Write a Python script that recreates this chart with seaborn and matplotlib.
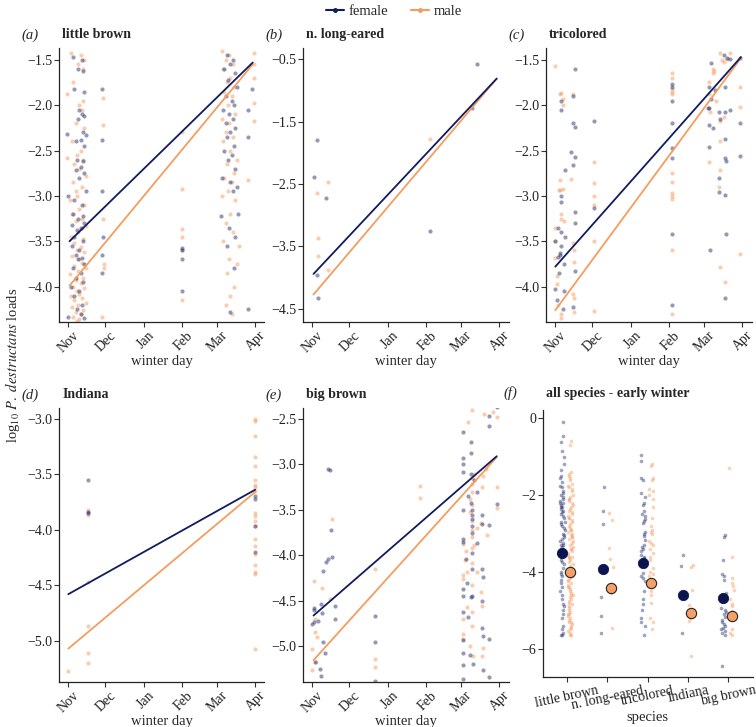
import numpy as np
import pandas as pd
import matplotlib
matplotlib.use('Agg')
import matplotlib.pyplot as plt
from matplotlib.lines import Line2D
from matplotlib.transforms import ScaledTranslation
import seaborn as sns

sns.set_style('white')
plt.rcParams['font.family'] = ['Liberation Serif', 'DejaVu Serif']
plt.rcParams['mathtext.fontset'] = 'stix'

FEMALE = '#101c5e'
MALE = '#f59c5f'

# winter day = days since 1 Nov
month_days = [0, 30, 61, 92, 120, 151]
month_labels = ['Nov', 'Dec', 'Jan', 'Feb', 'Mar', 'Apr']

species = ['little brown', 'n. long-eared', 'tricolored', 'Indiana', 'big brown']

# (a) little brown: (day, log10 load)
lb_female = [
    (4, -1.47), (11, -1.5), (8, -1.6), (12, -1.62), (5, -1.82), (13, -1.85), (9, -2.05), (11, -2.1),
    (13, -2.12), (8, -2.15), (-1, -2.32), (12, -2.3), (14, -2.33), (10, -2.38), (6, -2.4), (13, -2.45),
    (7, -2.6), (12, -2.62), (10, -2.68), (6, -2.72), (13, -2.75), (9, -2.8), (14, -2.95), (0, -3.0),
    (5, -3.05), (11, -3.1), (4, -3.2), (12, -3.22), (8, -3.25), (13, -3.3), (3, -3.32), (10, -3.35),
    (7, -3.38), (5, -3.45), (12, -3.5), (3, -3.55), (9, -3.6), (6, -3.65), (11, -3.68), (8, -3.7),
    (13, -3.75), (4, -3.8), (10, -3.85), (6, -3.9), (12, -3.95), (2, -4.0), (9, -4.05), (5, -4.1),
    (11, -4.2), (7, -4.25), (10, -4.3), (0, -4.33), (13, -4.35),
    (27, -1.82), (27, -2.38), (27, -2.95), (28, -3.45), (27, -3.65), (27, -3.85),
    (92, -3.57), (92, -3.6), (92, -3.7), (92, -4.05),
    (128, -1.45), (133, -1.5), (131, -1.55), (126, -1.6), (135, -1.65), (129, -1.72), (136, -1.8),
    (127, -1.9), (132, -1.95), (134, -2.0), (125, -2.05), (130, -2.1), (133, -2.15), (127, -2.2),
    (135, -2.25), (131, -2.3), (128, -2.35), (134, -2.45), (126, -2.5), (132, -2.55), (129, -2.6),
    (135, -2.7), (124, -2.8), (131, -2.85), (136, -2.9), (133, -2.95), (123, -3.22), (137, -3.2),
    (130, -3.35), (135, -3.45), (128, -3.55), (134, -3.8), (131, -4.28), (145, -4.25), (148, -1.82),
    (145, -2.35), (145, -2.05),
]
lb_male = [
    (2, -1.42), (10, -1.45), (13, -1.5), (8, -1.55), (12, -1.6), (4, -1.75), (-1, -1.88), (9, -2.0),
    (11, -2.05), (6, -2.2), (13, -2.25), (3, -2.4), (10, -2.5), (7, -2.55), (12, -2.6), (-1, -2.58),
    (5, -2.65), (9, -2.7), (14, -2.78), (4, -2.85), (11, -2.9), (7, -3.0), (1, -3.05), (13, -3.1),
    (9, -3.15), (3, -3.2), (11, -3.25), (6, -3.28), (14, -3.33), (8, -3.4), (2, -3.45), (12, -3.48),
    (5, -3.52), (10, -3.56), (7, -3.6), (13, -3.62), (3, -3.66), (9, -3.7), (11, -3.74), (5, -3.77),
    (14, -3.8), (8, -3.83), (1, -3.86), (12, -3.9), (6, -3.93), (10, -3.96), (4, -4.0), (13, -4.02),
    (7, -4.05), (9, -4.08), (2, -4.1), (11, -4.12), (5, -4.15), (14, -4.18), (8, -4.2), (3, -4.23),
    (12, -4.26), (6, -4.28), (10, -4.3), (4, -4.33), (9, -4.36), (7, -4.38), (11, -3.35), (6, -2.95),
    (12, -1.95),
    (28, -1.92), (28, -2.22), (28, -3.25), (29, -3.75), (29, -3.8), (27, -4.33),
    (92, -2.3), (92, -2.92), (92, -3.37), (92, -3.45), (92, -3.6), (92, -4.15),
    (124, -1.4), (130, -1.45), (127, -1.5), (133, -1.55), (125, -1.6), (131, -1.7), (128, -1.75),
    (134, -1.8), (126, -1.85), (132, -1.9), (129, -2.0), (135, -2.1), (124, -2.15), (130, -2.2),
    (127, -2.3), (133, -2.35), (125, -2.4), (131, -2.5), (136, -2.6), (128, -2.65), (134, -2.75),
    (126, -2.8), (132, -2.85), (129, -2.95), (124, -3.0), (135, -3.05), (131, -3.2), (127, -3.3),
    (133, -3.4), (125, -3.5), (130, -3.7), (136, -3.75), (128, -3.85), (134, -4.0), (131, -4.1),
    (127, -4.2), (132, -4.3), (138, -3.55), (150, -1.42), (150, -1.55), (150, -1.7), (150, -1.98),
    (150, -2.18), (145, -2.82),
]

# (b) n. long-eared
nle_female = [(1, -2.38), (4, -1.8), (4, -3.95), (5, -4.33), (11, -2.72), (95, -3.25), (133, -0.58),
              (129, -1.28)]
nle_male = [(4, -2.65), (5, -3.37), (5, -3.65), (13, -3.88), (13, -2.47), (95, -1.78)]

# (c) tricolored
tc_female = [
    (0, -3.5), (0, -4.03), (1, -4.15), (2, -3.67), (2, -3.35), (3, -3.85), (4, -3.63), (4, -3.65),
    (5, -1.95), (5, -2.05), (5, -3.0), (5, -3.07), (5, -3.4), (5, -3.55), (6, -4.25), (7, -3.75),
    (7, -4.05), (8, -2.72), (8, -3.45), (13, -2.52), (14, -1.9), (14, -2.2), (14, -2.66), (14, -4.23),
    (16, -1.6), (16, -2.24), (16, -2.57), (16, -3.18), (16, -3.3), (16, -3.83), (31, -2.17), (31, -3.13),
    (94, -1.77), (94, -1.8), (94, -1.95), (94, -2.2), (94, -2.47), (94, -2.58), (94, -3.42), (94, -4.2),
    (124, -1.8), (124, -2.03), (123, -2.03), (124, -2.22), (124, -2.46), (125, -3.6), (126, -1.53),
    (126, -1.93), (127, -2.25), (129, -1.83), (132, -2.08), (133, -2.15), (136, -1.45), (137, -1.8),
    (137, -2.08), (137, -2.37), (137, -2.58), (132, -2.96), (137, -2.99), (137, -4.13), (138, -2.62),
    (138, -3.42), (139, -1.48), (141, -1.49), (141, -2.05), (149, -1.48), (149, -2.2), (149, -2.56),
    (132, -2.8),
]
tc_male = [
    (0, -1.57), (0, -3.35), (0, -3.5), (0, -3.68), (1, -3.88), (1, -3.97), (2, -4.2), (3, -2.93),
    (4, -1.88), (5, -1.87), (4, -2.82), (4, -2.93), (5, -3.2), (5, -3.25), (5, -4.3), (5, -4.35),
    (6, -1.93), (6, -2.0), (6, -2.92), (7, -3.28), (13, -2.81), (14, -1.88), (14, -3.52), (14, -4.08),
    (15, -3.6), (15, -3.73), (15, -4.13), (15, -4.28), (31, -2.63), (31, -2.86), (31, -3.0), (31, -3.1),
    (31, -3.5), (31, -4.27), (94, -1.65), (94, -1.7), (94, -1.82), (94, -1.85), (94, -1.88), (94, -2.75),
    (94, -2.85), (94, -2.97), (94, -3.0), (94, -3.03), (94, -3.6), (94, -4.3), (124, -1.75), (124, -1.88),
    (124, -2.63), (125, -2.07), (127, -1.65), (127, -1.6), (128, -1.62), (130, -1.95), (133, -1.42),
    (133, -2.17), (133, -2.4), (133, -2.72), (133, -3.78), (135, -1.5), (136, -1.52), (136, -2.13),
    (137, -3.95), (139, -1.49), (141, -1.43), (149, -1.8), (149, -2.02), (149, -3.64), (132, -2.9),
]

# (d) Indiana
ind_female = [(16, -3.55), (16, -3.84), (16, -3.85), (151, -3.7), (151, -3.72), (151, -3.97), (151, -4.2)]
ind_male = [
    (0, -5.27), (16, -3.82), (16, -3.87), (16, -4.47), (16, -4.87), (16, -5.11), (16, -5.2),
    (151, -3.0), (151, -3.02), (151, -3.16), (151, -3.35), (151, -3.43), (151, -3.55), (151, -3.6),
    (151, -3.62), (151, -3.65), (151, -3.85), (151, -3.88), (151, -3.92), (151, -3.97), (151, -4.08),
    (151, -4.15), (151, -4.22), (151, -4.32), (151, -4.38), (151, -4.4), (151, -5.07),
]

# (e) big brown
bb_female = [
    (1, -4.58), (1, -4.6), (1, -4.73), (0, -4.75), (2, -5.17), (5, -4.72), (6, -5.25), (7, -5.32),
    (7, -4.53), (8, -4.63), (9, -4.17), (9, -4.95), (10, -5.07), (11, -4.07), (13, -3.05), (14, -3.06),
    (13, -4.04), (15, -3.72), (16, -4.02), (18, -4.56), (18, -4.7), (51, -4.66), (51, -4.95), (51, -5.38),
    (122, -2.64), (122, -2.93), (122, -3.0), (122, -3.08), (122, -3.5), (122, -3.82), (122, -3.85),
    (122, -4.37), (122, -4.45), (122, -4.62), (122, -4.93), (122, -5.07), (122, -5.2), (122, -5.36),
    (124, -4.04), (125, -4.3), (126, -3.35), (126, -4.68), (127, -5.09), (128, -2.75), (128, -2.87),
    (128, -3.1), (128, -3.42), (129, -3.5), (129, -3.55), (129, -3.6), (129, -3.68), (129, -3.75),
    (129, -3.97), (129, -4.15), (129, -4.45), (128, -4.46), (130, -5.19), (131, -3.17), (133, -3.3),
    (133, -3.86), (137, -3.56), (137, -3.65), (137, -4.15), (137, -4.5), (137, -4.8), (138, -4.24),
    (138, -4.88), (138, -5.26), (143, -2.47), (143, -2.58), (143, -3.67), (143, -4.92), (143, -5.33),
    (149, -2.37), (149, -3.44),
]
bb_male = [
    (0, -5.03), (0, -5.26), (1, -4.28), (2, -4.7), (2, -4.84), (3, -5.17), (4, -4.9), (8, -4.36),
    (14, -4.48), (16, -3.6), (51, -4.15), (51, -5.14), (51, -5.22), (87, -3.24), (87, -3.37),
    (122, -3.87), (122, -4.22), (122, -4.26), (122, -4.7), (122, -4.86), (122, -4.92), (123, -4.05),
    (124, -3.95), (125, -4.57), (125, -4.18), (126, -2.53), (127, -3.38), (127, -3.52), (127, -5.0),
    (129, -2.4), (129, -3.15), (129, -3.22), (129, -3.3), (129, -3.45), (129, -3.62), (129, -3.72),
    (129, -3.8), (129, -3.92), (129, -4.08), (129, -4.32), (129, -4.62), (129, -4.78), (130, -5.1),
    (131, -3.1), (131, -3.88), (133, -3.7), (133, -4.18), (136, -3.64), (136, -4.4), (137, -4.55),
    (137, -3.25), (138, -3.13), (138, -5.02), (139, -2.45), (140, -3.05), (146, -2.42), (149, -2.48),
    (149, -3.25), (149, -3.48), (141, -3.78), (137, -5.1),
]

# fitted lines: start/end day and fitted log10 load, per species
fit_start_day = [1, 1, 0, 0, 1]
fit_end_day = [149, 149, 150, 151, 149]
female_fit_start = [-3.50, -3.94, -3.78, -4.58, -4.66]
female_fit_end = [-1.53, -0.81, -1.47, -3.64, -2.91]
male_fit_start = [-3.99, -4.27, -4.26, -5.07, -5.15]
male_fit_end = [-1.55, -0.81, -1.48, -3.66, -2.92]

# (f) early winter loads per species
early_female = {
    'little brown': [-0.1, -0.45, -0.62, -0.85, -1.0, -1.2, -1.35, -1.5, -1.55, -1.65, -1.75, -1.8, -1.9,
                     -2.0, -2.05, -2.1, -2.15, -2.2, -2.25, -2.3, -2.35, -2.4, -2.45, -2.5, -2.55, -2.6,
                     -2.7, -2.75, -2.8, -2.85, -2.9, -3.0, -3.05, -3.1, -3.15, -3.2, -3.25, -3.3, -3.35,
                     -3.4, -3.45, -3.5, -3.6, -3.7, -3.75, -3.8, -3.9, -4.0, -4.05, -4.1, -4.2, -4.3,
                     -4.4, -4.5, -4.6, -4.7, -4.85, -4.9, -5.0, -5.1, -5.2, -5.4, -5.5, -5.6, -5.65,
                     -5.65, -2.2, -2.3, -2.7, -3.3, -3.5, -1.95],
    'n. long-eared': [-1.8, -2.4, -2.75, -3.9, -4.65, -5.15, -5.6],
    'tricolored': [-0.95, -1.1, -1.6, -1.95, -2.05, -2.2, -2.25, -2.4, -2.5, -2.55, -2.62, -2.67, -2.72,
                   -2.95, -3.0, -3.07, -3.18, -3.3, -3.35, -3.4, -3.45, -3.55, -3.62, -3.65, -3.75,
                   -3.85, -4.03, -4.1, -4.15, -4.25, -4.5, -4.7, -4.85, -5.0, -5.2, -5.3, -5.4, -5.65,
                   -1.55],
    'Indiana': [-3.55, -3.85, -5.6],
    'big brown': [-3.05, -3.1, -3.7, -4.05, -4.1, -4.55, -4.6, -4.7, -4.75, -4.95, -5.05, -5.1, -5.17,
                  -5.25, -5.3, -5.35, -5.4, -5.45, -5.5, -5.55, -5.6, -5.65, -6.45, -4.2, -5.0],
}
early_male = {
    'little brown': [-0.6, -0.7, -1.4, -1.45, -1.5, -1.6, -1.7, -1.8, -1.85, -1.9, -2.0, -2.05, -2.1,
                     -2.15, -2.2, -2.25, -2.3, -2.35, -2.4, -2.45, -2.5, -2.55, -2.6, -2.65, -2.7, -2.75,
                     -2.8, -2.85, -2.9, -2.95, -3.0, -3.05, -3.1, -3.15, -3.2, -3.25, -3.3, -3.35, -3.4,
                     -3.45, -3.5, -3.55, -3.6, -3.65, -3.7, -3.75, -3.8, -3.85, -3.9, -3.95, -4.0, -4.05,
                     -4.1, -4.15, -4.2, -4.25, -4.3, -4.35, -4.4, -4.45, -4.5, -4.55, -4.6, -4.65, -4.7,
                     -4.75, -4.8, -4.85, -4.9, -4.95, -5.0, -5.05, -5.1, -5.15, -5.2, -5.25, -5.3, -5.35,
                     -5.4, -5.45, -5.5, -5.55, -5.6, -5.65, -5.65, -2.1, -2.6, -3.1, -3.6, -4.1, -4.6,
                     -5.1, -5.3, -2.9, -3.4, -3.9, -4.4, -1.55, -1.75],
    'n. long-eared': [-2.47, -2.65, -3.38, -3.67, -3.88, -4.5, -4.55, -5.45],
    'tricolored': [-1.2, -1.25, -1.55, -1.85, -1.9, -2.0, -2.3, -2.6, -2.8, -2.9, -2.95, -3.0, -3.2,
                   -3.25, -3.3, -3.5, -3.6, -3.7, -3.9, -4.0, -4.1, -4.2, -4.3, -4.35, -4.5, -4.6, -4.8,
                   -5.2, -5.3, -5.5, -1.6, -2.1, -3.4, -4.05],
    'Indiana': [-3.82, -3.87, -4.47, -4.87, -5.11, -5.2, -6.2, -5.27],
    'big brown': [-1.3, -3.6, -4.15, -4.28, -4.36, -4.48, -4.7, -4.84, -4.9, -5.03, -5.14, -5.17, -5.22,
                  -5.26, -5.5, -5.65, -5.6],
}
female_mean = [-3.52, -3.93, -3.78, -4.60, -4.67]
male_mean = [-4.00, -4.43, -4.28, -5.08, -5.16]

panels = [
    ('(a)', 'little brown', lb_female, lb_male, (-4.39, -1.37), [-4.0, -3.5, -3.0, -2.5, -2.0, -1.5]),
    ('(b)', 'n. long-eared', nle_female, nle_male, (-4.71, -0.32), [-4.5, -3.5, -2.5, -1.5, -0.5]),
    ('(c)', 'tricolored', tc_female, tc_male, (-4.39, -1.37), [-4.0, -3.5, -3.0, -2.5, -2.0, -1.5]),
    ('(d)', 'Indiana', ind_female, ind_male, (-5.37, -2.905), [-5.0, -4.5, -4.0, -3.5, -3.0]),
    ('(e)', 'big brown', bb_female, bb_male, (-5.39, -2.38), [-5.0, -4.5, -4.0, -3.5, -3.0, -2.5]),
]

W, H = 756, 727
fig = plt.figure(figsize=(W / 100, H / 100), dpi=100)
lefts = [59, 303, 546]
bottoms = [H - 322, H - 682]
aw, ah = 205.5, 274
shift_right = ScaledTranslation(4 / 100, 0, fig.dpi_scale_trans)


def style_axes(ax):
    sns.despine(ax=ax)
    for s in ['left', 'bottom']:
        ax.spines[s].set_color('#222222')
        ax.spines[s].set_linewidth(0.9)
    ax.tick_params(axis='both', which='both', direction='out', length=3.5, width=0.8,
                   color='#333333', labelsize=10, labelcolor='#222222', pad=1.5,
                   bottom=True, left=True)
    ax.set_ylabel('')


for i, (letter, name, fem, mal, ylim, yticks) in enumerate(panels):
    row, col = divmod(i, 3)
    ax = fig.add_axes([lefts[col] / W, bottoms[row] / H, aw / W, ah / H])
    fdf = pd.DataFrame(fem, columns=['day', 'load'])
    mdf = pd.DataFrame(mal, columns=['day', 'load'])
    sns.scatterplot(data=mdf, x='day', y='load', color=MALE, s=9, alpha=0.5, linewidth=0, ax=ax)
    sns.scatterplot(data=fdf, x='day', y='load', color=FEMALE, s=9, alpha=0.45, linewidth=0, ax=ax)
    sns.lineplot(x=[fit_start_day[i], fit_end_day[i]], y=[male_fit_start[i], male_fit_end[i]],
                 color=MALE, lw=1.3, ax=ax)
    sns.lineplot(x=[fit_start_day[i], fit_end_day[i]], y=[female_fit_start[i], female_fit_end[i]],
                 color=FEMALE, lw=1.3, ax=ax)
    ax.set_xlim(-7.5, 158.5)
    ax.set_ylim(*ylim)
    ax.set_yticks(yticks)
    ax.set_yticklabels([f'{t:.1f}'.replace('-', '\u2212') for t in yticks])
    ax.set_xticks(month_days)
    ax.set_xticklabels(month_labels, rotation=45, ha='right', rotation_mode='anchor')
    style_axes(ax)
    for lab in ax.get_xticklabels():
        lab.set_transform(lab.get_transform() + shift_right)
    ax.set_xlabel('winter day', fontsize=10.5)
    ax.xaxis.label.set_va('center')
    ax.xaxis.set_label_coords(0.5, -40 / ah)
    ax.text(-38 / aw, 1 + 9.6 / ah, letter, transform=ax.transAxes, fontsize=10.5, style='italic')
    ax.text(0.015, 1 + 9.6 / ah, name, transform=ax.transAxes, fontsize=10, fontweight='bold')

# (f) all species - early winter
fw, fh = 209.5, 267
axf = fig.add_axes([543 / W, (H - 677) / H, fw / W, fh / H])
rows_f, rows_m = [], []
for k, sp in enumerate(species):
    rows_f += [(k - 0.12, v) for v in early_female[sp]]
    rows_m += [(k + 0.08, v) for v in early_male[sp]]
ef = pd.DataFrame(rows_f, columns=['pos', 'load'])
em = pd.DataFrame(rows_m, columns=['pos', 'load'])
np.random.seed(3)
sns.stripplot(data=ef, x='pos', y='load', native_scale=True, orient='x', jitter=0.06,
              color=FEMALE, size=2.6, alpha=0.4, linewidth=0, ax=axf)
sns.stripplot(data=em, x='pos', y='load', native_scale=True, orient='x', jitter=0.06,
              color=MALE, size=2.6, alpha=0.45, linewidth=0, ax=axf)
sns.scatterplot(x=np.arange(len(species)) - 0.12, y=female_mean, color='#0a1550', s=55,
                edgecolor='#0a1550', linewidth=0.6, zorder=5, ax=axf)
sns.scatterplot(x=np.arange(len(species)) + 0.08, y=male_mean, color='#f4a068', s=55,
                edgecolor='#222222', linewidth=0.8, zorder=5, ax=axf)
axf.set_xlim(-0.6, 4.6)
axf.set_ylim(-6.74, 0.22)
axf.set_yticks([-6, -4, -2, 0])
axf.set_yticklabels(['\u22126', '\u22124', '\u22122', '0'])
axf.set_xticks(range(len(species)))
axf.set_xticklabels(species, rotation=12, ha='center')
style_axes(axf)
axf.set_xlabel('species', fontsize=10.5)
axf.xaxis.label.set_va('center')
axf.xaxis.set_label_coords(0.5, -41 / fh)
axf.text(-40 / fw, 1 + 13 / fh, '(f)', transform=axf.transAxes, fontsize=10.5, style='italic')
axf.text(0.012, 1 + 13 / fh, 'all species - early winter', transform=axf.transAxes, fontsize=10,
         fontweight='bold')

fig.text(0.016, 0.498, r'log$_{10}$ $\it{P.\ destructans}$ loads', rotation=90,
         ha='center', va='center', fontsize=10.5)

handles = [Line2D([], [], color=FEMALE, lw=1.5, marker='o', markersize=2.5),
           Line2D([], [], color=MALE, lw=1.5, marker='o', markersize=2.5)]
fig.legend(handles, ['female', 'male'], loc='upper center', bbox_to_anchor=(0.521, 1.011), ncol=2,
           frameon=False, fontsize=10.5, handlelength=1.25, columnspacing=1.6, handletextpad=0.3)

fig.savefig('out.png', dpi=100, facecolor='white')
